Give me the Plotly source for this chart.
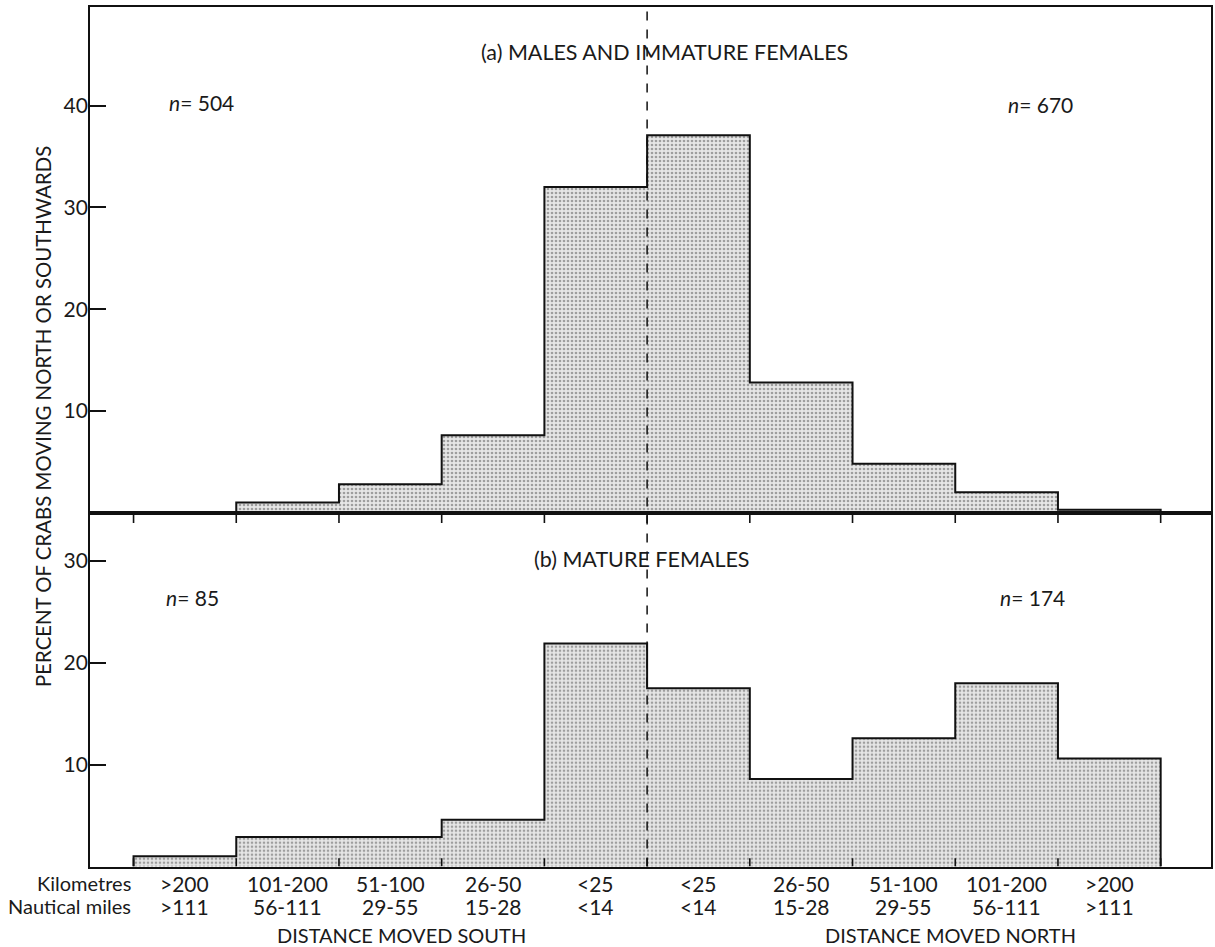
import plotly.graph_objects as go
from plotly.subplots import make_subplots

# ---- data ----
km_labels = [">200", "101-200", "51-100", "26-50", "&lt;25", "&lt;25", "26-50", "51-100", "101-200", ">200"]
nm_labels = [">111", "56-111", "29-55", "15-28", "&lt;14", "&lt;14", "15-28", "29-55", "56-111", ">111"]
pct_a = [0.0, 1.0, 2.8, 7.6, 32.0, 37.1, 12.8, 4.8, 2.0, 0.3]     # males and immature females
pct_b = [1.0, 2.9, 2.9, 4.6, 21.9, 17.5, 8.6, 12.6, 18.0, 10.6]   # mature females
n_a = ["504", "670"]
n_b = ["85", "174"]

nbins = len(km_labels)
centers = [i + 0.5 for i in range(nbins)]
edges = list(range(nbins + 1))

FONT = "Lato"
TXT = "#1a1a1a"
YMAX_A, YMAX_B = 49.7, 34.75

fig = make_subplots(rows=2, cols=1, shared_xaxes=False, vertical_spacing=0)

pattern = dict(shape=".", fgcolor="#555555", bgcolor="#e6e6e6", size=4, solidity=0.35)

for row, vals in ((1, pct_a), (2, pct_b)):
    fig.add_trace(go.Bar(x=centers, y=vals, width=[1] * nbins,
                         marker=dict(color="#e6e6e6", pattern=pattern, line=dict(width=0)),
                         showlegend=False, hoverinfo="skip"), row=row, col=1)
    sx = [edges[0]] + edges[:-1] + [edges[-1]]
    sy = [0] + vals + [0]
    fig.add_trace(go.Scatter(x=sx, y=sy, mode="lines", line=dict(color="#111", width=2, shape="hv"),
                             showlegend=False, hoverinfo="skip"), row=row, col=1)

# tick marks at class boundaries: hanging below panel (a)'s base line and rising from panel (b)'s
top_tick = 1.0    # length in y2 units (~10 px)
bot_tick = 0.8    # length in y2 units (~8 px)
tx, ty = [], []
for e in edges:
    tx += [e, e, None, e, e, None]
    ty += [YMAX_B - top_tick, YMAX_B, None, 0, bot_tick, None]
fig.add_trace(go.Scatter(x=tx, y=ty, mode="lines", line=dict(color="#111", width=1.6),
                         showlegend=False, hoverinfo="skip", cliponaxis=False, connectgaps=False),
              row=2, col=1)

xr = [-0.424, 10.49]
common_x = dict(range=xr, showgrid=False, zeroline=False, showline=True, mirror=True,
                linecolor="#111", linewidth=1.8, showticklabels=False, ticks="",
                layer="above traces", domain=[90 / 1215, 1211 / 1215])
common_y = dict(showgrid=False, zeroline=False, showline=True, mirror=True, linecolor="#111", linewidth=1.8,
                ticks="inside", ticklen=16, tickwidth=1.5, tickcolor="#111", ticklabelstandoff=-4,
                tickfont=dict(family=FONT, size=21, color=TXT), layer="above traces")

fig.update_layout(
    width=1215, height=947, margin=dict(l=0, r=0, t=0, b=0),
    paper_bgcolor="white", plot_bgcolor="rgba(0,0,0,0)", bargap=0,
    xaxis=dict(common_x),
    xaxis2=dict(common_x),
    yaxis=dict(common_y, range=[0, YMAX_A], tickvals=[10, 20, 30, 40], domain=[1 - 512.7 / 947, 1 - 7 / 947]),
    yaxis2=dict(common_y, range=[0, YMAX_B], tickvals=[10, 20, 30], domain=[1 - 866.5 / 947, 1 - 512.7 / 947]),
)

# dashed centre line through both panels
fig.add_shape(type="line", xref="x", yref="paper", x0=edges[5], x1=edges[5],
              y0=1 - 866.5 / 947, y1=1 - 7 / 947, line=dict(color="#111", width=1.5, dash="dash"))

ann = []
def txt(x, y, s, xref, yref, size=19, xanchor="center", **kw):
    ann.append(dict(x=x, y=y, text=s, xref=xref, yref=yref, showarrow=False, xanchor=xanchor,
                    yanchor="middle", font=dict(family=FONT, size=size, color=TXT), **kw))

txt(5.17, 45.3, "(a) MALES AND IMMATURE FEMALES", "x", "y", size=21.5)
txt(4.95, 30.2, "(b) MATURE FEMALES", "x2", "y2", size=21.5)
txt(0.66, 40.3, "<i>n</i>= " + n_a[0], "x", "y", size=21)
txt(8.83, 40.1, "<i>n</i>= " + n_a[1], "x", "y", size=21)
txt(0.57, 26.4, "<i>n</i>= " + n_b[0], "x2", "y2", size=21)
txt(8.75, 26.4, "<i>n</i>= " + n_b[1], "x2", "y2", size=21)

for c, k, m in zip(centers, km_labels, nm_labels):
    txt(c, 1 - 883 / 947, k, "x2", "paper", size=21)
    txt(c, 1 - 906 / 947, m, "x2", "paper", size=21)

txt(133 / 1215, 1 - 883 / 947, "Kilometres", "paper", "paper", size=20, xanchor="right")
txt(133 / 1215, 1 - 906 / 947, "Nautical miles", "paper", "paper", size=20, xanchor="right")
txt(2.61, 1 - 935 / 947, "DISTANCE MOVED SOUTH", "x2", "paper", size=20)
txt(7.95, 1 - 935 / 947, "DISTANCE MOVED NORTH", "x2", "paper", size=20)
txt(43 / 1215, 1 - 417 / 947, "PERCENT OF CRABS MOVING NORTH OR SOUTHWARDS", "paper", "paper",
    size=20.4, textangle=-90)

fig.update_layout(annotations=ann)
fig.write_html("out.html")
